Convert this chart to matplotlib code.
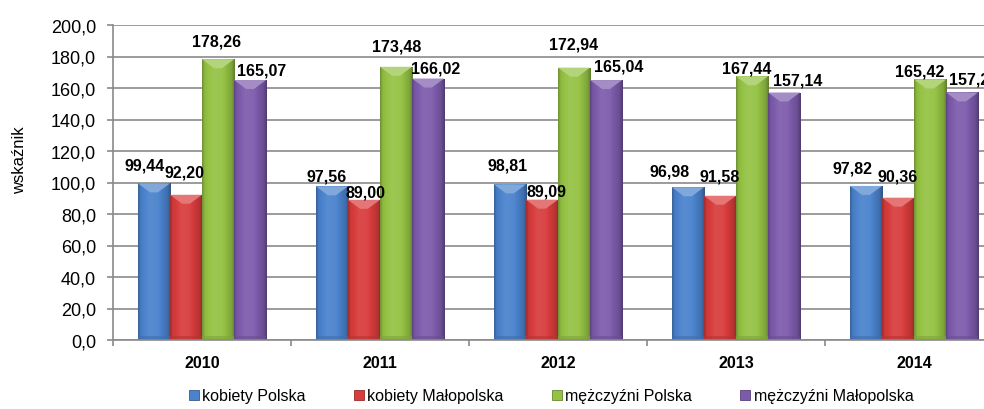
import numpy as np
import matplotlib
matplotlib.use("Agg")
import matplotlib.pyplot as plt
from matplotlib.patches import Polygon, Patch
from matplotlib.colors import to_rgb

plt.rcParams['font.family'] = ['Liberation Sans', 'DejaVu Sans']

# ---- data ----
years = ["2010", "2011", "2012", "2013", "2014"]
series_names = ["kobiety Polska", "kobiety Małopolska", "mężczyźni Polska", "mężczyźni Małopolska"]
kobiety_polska = [99.44, 97.56, 98.81, 96.98, 97.82]
kobiety_malopolska = [92.20, 89.00, 89.09, 91.58, 90.36]
mezczyzni_polska = [178.26, 173.48, 172.94, 167.44, 165.42]
mezczyzni_malopolska = [165.07, 166.02, 165.04, 157.14, 157.20]
y_ticks = [0, 20, 40, 60, 80, 100, 120, 140, 160, 180, 200]
y_label = "wskaźnik"

# ---- styling ----
base_colors = ["#4a82cc", "#d83c3c", "#94c243", "#7d5bac"]
# label offsets (pixels, dx right / dy up) from the top centre of each bar
label_dx = [[-9, -5, -2, -18, -13],
            [-1, 2, 5, 0, 0],
            [-1, 1, 0, -5, -10],
            [12, 8, 13, 14, 12]]
label_dy = [[18, 10, 19, 16, 18],
            [23, 8, 9, 20, 22],
            [18, 21, 24, 8, 8],
            [10, 11, 14, 13, 13]]

W, H, DPI = 984, 410, 100
fig = plt.figure(figsize=(W / DPI, H / DPI), dpi=DPI)
ax_left, ax_right, ax_top, ax_bottom = 113, 1003, 26, 341
ax = fig.add_axes([ax_left / W, 1 - ax_bottom / H,
                   (ax_right - ax_left) / W, (ax_bottom - ax_top) / H])

grid_col = "#8a8a8a"
x = np.arange(len(years))
bar_w = 0.18
all_series = [kobiety_polska, kobiety_malopolska, mezczyzni_polska, mezczyzni_malopolska]
px_per_unit = (ax_bottom - ax_top) / 200.0


def shade(c, f):
    r = np.array(to_rgb(c))
    if f >= 0:
        return r + (1 - r) * f
    return r * (1 + f)


for si, (vals, col) in enumerate(zip(all_series, base_colors)):
    pos = x + (si - 1.5) * bar_w
    bars = ax.bar(pos, vals, width=bar_w, color=col, zorder=3, linewidth=0)
    # horizontal gradient for a rounded look
    t = np.linspace(0, 1, 64)
    prof = np.interp(t, [0, 0.08, 0.35, 0.6, 0.9, 1.0], [-0.25, -0.05, 0.08, 0.05, -0.15, -0.35])
    grad = np.array([shade(col, f) for f in prof])[None, :, :]
    for b, v in zip(bars, vals):
        x0 = b.get_x()
        im = ax.imshow(grad, extent=[x0, x0 + bar_w, 0, v], aspect='auto',
                       zorder=3.5, interpolation='bilinear')
        im.set_clip_path(b)
        # bevelled top
        bev = 9.0 / px_per_unit
        tri = Polygon([[x0, v], [x0 + bar_w, v], [x0 + bar_w * 0.62, v - bev],
                       [x0 + bar_w * 0.38, v - bev]], closed=True,
                      facecolor=shade(col, 0.3), edgecolor='none', zorder=4)
        ax.add_patch(tri)
        # darker foot
        foot = Polygon([[x0, 0], [x0 + bar_w, 0], [x0 + bar_w, 2.5], [x0, 2.5]],
                       closed=True, facecolor=shade(col, -0.15), edgecolor='none',
                       zorder=4, alpha=0.6)
        ax.add_patch(foot)
    for i, (b, v) in enumerate(zip(bars, vals)):
        ax.annotate(f"{v:.2f}".replace(".", ","),
                    xy=(b.get_x() + bar_w / 2, v),
                    xytext=(label_dx[si][i] * 72 / DPI, label_dy[si][i] * 72 / DPI),
                    textcoords='offset points', ha='center', va='center',
                    fontsize=11.5, fontweight='bold', color='black', zorder=6)

ax.set_xlim(-0.5, len(years) - 0.5)
ax.set_ylim(0, 200)
ax.set_yticks(y_ticks)
ax.set_yticklabels([f"{v:.1f}".replace(".", ",") for v in y_ticks], fontsize=13)
ax.yaxis.grid(True, color=grid_col, linewidth=1.2, zorder=0)
ax.set_axisbelow(True)

ax.set_xticks(x)
ax.set_xticklabels(years, fontsize=11.5, fontweight='bold')
ax.tick_params(axis='x', which='major', length=0, pad=11)
ax.set_xticks(np.arange(-0.5, len(years) + 0.5, 1.0), minor=True)
ax.tick_params(axis='x', which='minor', length=4.3, width=1.2, color=grid_col, direction='out')
ax.tick_params(axis='y', length=4.3, width=1.2, color=grid_col, direction='out', pad=8)

for s in ['top', 'right']:
    ax.spines[s].set_visible(False)
for s in ['left', 'bottom']:
    ax.spines[s].set_color(grid_col)
    ax.spines[s].set_linewidth(1.2)
    ax.spines[s].set_zorder(5)

fig.text(20 / W, 1 - 160 / H, y_label, rotation=90, ha='center', va='center', fontsize=12)

handles = [Patch(facecolor=c, edgecolor=shade(c, -0.3), linewidth=0.6) for c in base_colors]
fig.legend(handles, series_names, loc='center', bbox_to_anchor=(551 / W, 1 - 397 / H),
           ncol=4, frameon=False, fontsize=11.5, handlelength=0.65, handleheight=0.65,
           handletextpad=0.2, columnspacing=3.0, borderpad=0, borderaxespad=0)

fig.savefig("out.png", dpi=DPI)
